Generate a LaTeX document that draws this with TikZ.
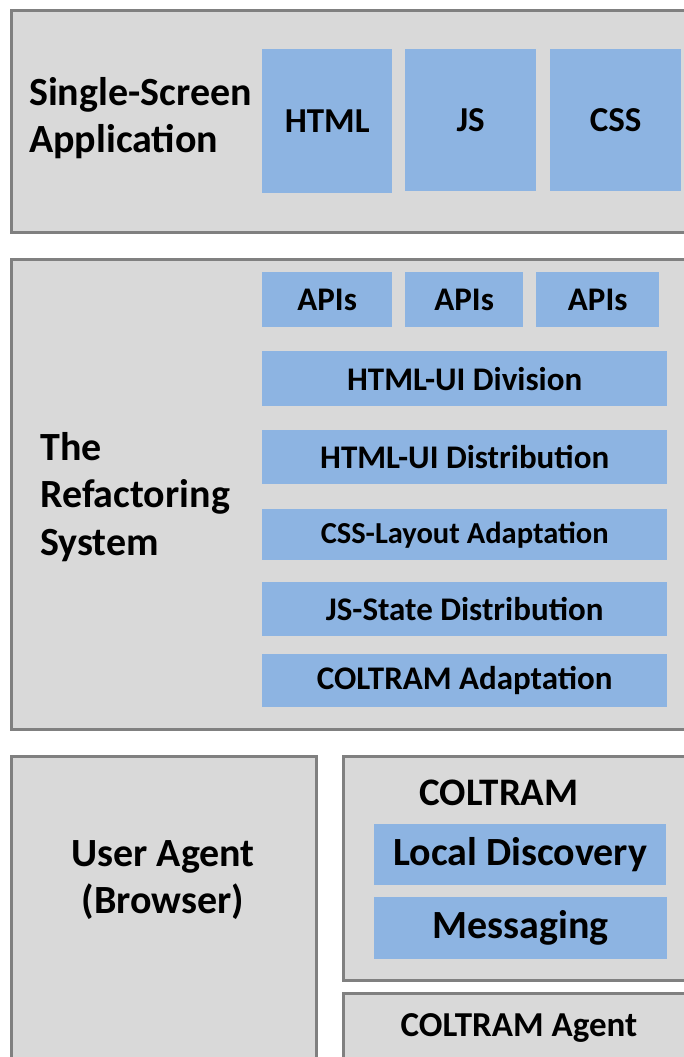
\documentclass[tikz,border=0pt]{standalone}
\usepackage{fontspec}
\setmainfont{Carlito}
\definecolor{layergray}{HTML}{D9D9D9}
\definecolor{edgegray}{HTML}{808080}
\definecolor{blockblue}{HTML}{8DB4E2}
\newcommand{\fsz}[1]{\fontsize{#1}{1.18\dimexpr#1pt\relax}\selectfont}

\begin{document}
\begin{tikzpicture}[x=1pt,y=-1pt,
  layer/.style={draw=edgegray,fill=layergray,line width=3pt,anchor=north west,inner sep=0pt},
  block/.style={fill=blockblue,anchor=north west,inner sep=0pt,font=\bfseries\fsz{33}},
  title/.style={font=\bfseries\fsz{40},inner sep=0pt}]
  \useasboundingbox (0,0) rectangle (684,1057);
  \clip (0,0) rectangle (684,1057);

  % application layer
  \node[layer,minimum width=720pt,minimum height=222pt] (app) at (10,9) {};
  \node[title,anchor=west,align=left] (apptitle) at (29,118) {Single-Screen\\Application};
  \node[block,minimum width=130pt,minimum height=144pt,font=\bfseries\fsz{35}] (html) at (262,49) {HTML};
  \node[block,minimum width=131pt,minimum height=142pt,font=\bfseries\fsz{35}] (js) at (405,49) {JS};
  \node[block,minimum width=131pt,minimum height=142pt,font=\bfseries\fsz{35}] (css) at (550,49) {CSS};

  % refactoring layer
  \node[layer,minimum width=720pt,minimum height=470pt] (ref) at (10,258) {};
  \node[title,anchor=west,align=left] (reftitle) at (40,497) {The\\Refactoring\\System};
  \node[block,minimum width=130pt,minimum height=55pt] (api1) at (262,272) {APIs};
  \node[block,minimum width=118pt,minimum height=55pt] (api2) at (405,272) {APIs};
  \node[block,minimum width=123pt,minimum height=55pt] (api3) at (536,272) {APIs};
  \node[block,minimum width=405pt,minimum height=55pt] (division) at (262,351) {HTML-UI Division};
  \node[block,minimum width=405pt,minimum height=54pt] (distrib) at (262,430) {HTML-UI Distribution};
  \node[block,minimum width=405pt,minimum height=51pt,font=\bfseries\fsz{30.5}] (layout) at (262,509) {CSS-Layout Adaptation};
  \node[block,minimum width=405pt,minimum height=54pt] (jsstate) at (262,582) {JS-State Distribution};
  \node[block,minimum width=405pt,minimum height=53pt] (adapt) at (262,654) {COLTRAM Adaptation};

  % runtime layer
  \node[layer,minimum width=305pt,minimum height=320pt] (agent) at (10,755) {};
  \node[title,align=center] (agenttitle) at (163,880) {User Agent\\(Browser)};
  \node[layer,minimum width=360pt,minimum height=224pt] (coltram) at (342,755) {};
  \node[title,font=\bfseries\fsz{39}] (coltramtitle) at (499,793) {COLTRAM};
  \node[block,minimum width=292pt,minimum height=61pt,font=\bfseries\fsz{40}] (discovery) at (374,824) {Local Discovery};
  \node[block,minimum width=293pt,minimum height=62pt,font=\bfseries\fsz{40}] (messaging) at (374,897) {Messaging};
  \node[layer,minimum width=360pt,minimum height=80pt] (cagent) at (342,992) {};
  \node[title,font=\bfseries\fsz{35}] (cagenttitle) at (519,1028) {COLTRAM Agent};
\end{tikzpicture}
\end{document}
